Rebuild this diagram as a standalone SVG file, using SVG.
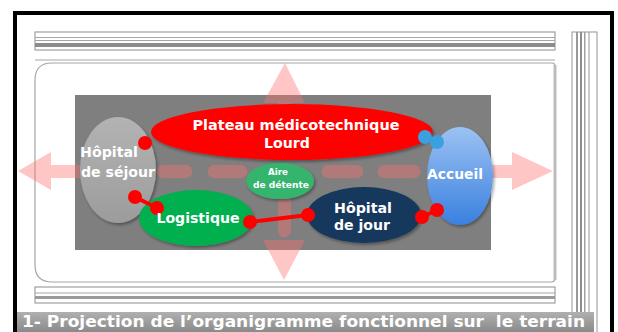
<svg xmlns="http://www.w3.org/2000/svg" width="618" height="332" viewBox="0 0 618 332">
<defs>
<style>
.t{font-family:"DejaVu Sans","Liberation Sans",sans-serif;font-weight:bold;fill:#fff;}
.pk{fill:#ff7070;fill-opacity:0.4;}
.dash{stroke:#ff7070;stroke-opacity:0.4;stroke-width:13;stroke-linecap:round;fill:none;}
.con{stroke:#ff0000;stroke-width:4;}
.dot{fill:#ff0000;}
.ln{stroke:#a6a6a6;stroke-width:1.2;fill:none;}
</style>
<linearGradient id="gAcc" x1="0" y1="0" x2="0" y2="1"><stop offset="0" stop-color="#9cc2f2"/><stop offset="1" stop-color="#3a80e0"/></linearGradient>
<linearGradient id="gSej" x1="0" y1="0" x2="0" y2="1"><stop offset="0" stop-color="#b3b3b3"/><stop offset="1" stop-color="#9c9c9c"/></linearGradient>
<linearGradient id="gCap" x1="0" y1="0" x2="0" y2="1"><stop offset="0" stop-color="#b0b0b0"/><stop offset="1" stop-color="#868686"/></linearGradient>
<filter id="sh" x="-20%" y="-20%" width="140%" height="150%"><feDropShadow dx="1.5" dy="2" stdDeviation="1.5" flood-color="#000" flood-opacity="0.35"/></filter>
</defs>
<rect width="618" height="332" fill="#fff"/>
<g id="frame">
<rect x="15" y="13" width="597" height="335" fill="none" stroke="#000" stroke-width="4"/>
<rect x="35" y="32" width="520" height="18" fill="#fff" stroke="#a0a0a0" stroke-width="1.2"/>
<line x1="35" y1="37.5" x2="555" y2="37.5" class="ln"/>
<line x1="35" y1="40.5" x2="555" y2="40.5" class="ln"/>
<rect x="35" y="43" width="520" height="4" fill="#8c8c8c"/>
<line x1="35" y1="60" x2="555" y2="60" class="ln"/>
<path d="M52,63 H552 Q555,63 555,66 V278 Q555,282 551,282 H52 Q35,282 35,265 V80 Q35,63 52,63 Z" fill="#fff" stroke="#a6a6a6" stroke-width="1.2"/>
<line x1="555" y1="65" x2="555" y2="280" stroke="#bdbdbd" stroke-width="3"/>
<rect x="35" y="287" width="520" height="16" fill="#fff" stroke="#a0a0a0" stroke-width="1.2"/>
<line x1="35" y1="293" x2="555" y2="293" class="ln"/>
<rect x="35" y="296" width="520" height="3" fill="#9a9a9a"/>
<rect x="572" y="32" width="25" height="310" fill="#fff" stroke="#a6a6a6" stroke-width="1.2"/>
<rect x="576" y="32" width="2" height="310" fill="#9a9a9a"/>
<rect x="580" y="32" width="2" height="310" fill="#8c8c8c"/>
<rect x="584" y="32" width="1.5" height="310" fill="#a0a0a0"/>
<line x1="589" y1="32" x2="589" y2="342" class="ln"/>
<rect x="17" y="312" width="577" height="22" fill="url(#gCap)"/>
<text class="t" x="22" y="326.5" font-size="15" textLength="563" lengthAdjust="spacingAndGlyphs" style="white-space:pre">1- Projection de l’organigramme fonctionnel sur  le terrain</text>
</g>
<rect x="75" y="95" width="416" height="155" fill="#7f7f7f"/>
<g id="axes">
<polygon class="pk" points="285,63 263,103 305,103"/>
<rect class="pk" x="278" y="103" width="13" height="5"/>
<polygon class="pk" points="263,240 305,240 284,280"/>
<polygon class="pk" points="18,171 51,152 51,190"/>
<rect class="pk" x="51" y="165" width="32" height="13"/>
<polygon class="pk" points="512,152 512,190 553,171"/>
<rect class="pk" x="488" y="165" width="24" height="13"/>
<line class="dash" x1="163" y1="171.5" x2="186" y2="171.5"/>
<line class="dash" x1="214" y1="171.5" x2="241" y2="171.5"/>
<line class="dash" x1="328" y1="171.5" x2="357" y2="171.5"/>
<line class="dash" x1="384" y1="171.5" x2="414" y2="171.5"/>
<line class="dash" x1="284.5" y1="203" x2="284.5" y2="231"/>
</g>
<g id="sejour" filter="url(#sh)"><ellipse cx="118" cy="170" rx="38" ry="53" fill="url(#gSej)"/></g>
<g id="plateau" filter="url(#sh)"><ellipse cx="292" cy="132" rx="141" ry="28" fill="#ff0000"/></g>
<g id="accueil" filter="url(#sh)"><ellipse cx="460" cy="176" rx="33" ry="49" fill="url(#gAcc)"/></g>
<g id="logistique" filter="url(#sh)"><ellipse cx="196" cy="218" rx="57" ry="28" fill="#00b050"/></g>
<g id="hopjour" filter="url(#sh)"><ellipse cx="364" cy="215" rx="57" ry="28" fill="#12395c"/></g>
<g id="aire" filter="url(#sh)"><ellipse cx="280" cy="181" rx="34" ry="18" fill="#35b46e"/></g>
<g id="connectors">
<circle class="dot" cx="145" cy="143" r="7"/>
<line class="con" x1="135" y1="197" x2="157" y2="208"/>
<circle class="dot" cx="135" cy="197" r="7"/>
<circle class="dot" cx="157" cy="208" r="7"/>
<line class="con" x1="250" y1="222" x2="308" y2="215"/>
<circle class="dot" cx="250" cy="222" r="7"/>
<circle class="dot" cx="308" cy="215" r="7"/>
<line class="con" x1="422" y1="217" x2="437" y2="210"/>
<circle class="dot" cx="422" cy="217" r="7"/>
<circle class="dot" cx="437" cy="210" r="7"/>
<line x1="425" y1="137" x2="437" y2="142" stroke="#3aa0e0" stroke-width="4"/>
<circle cx="425" cy="137" r="7" fill="#3aa0e0"/>
<circle cx="437" cy="142" r="7" fill="#3aa0e0"/>
</g>
<g id="labels">
<text class="t" x="296" y="130" font-size="14.5" text-anchor="middle" textLength="207" lengthAdjust="spacingAndGlyphs">Plateau médicotechnique</text>
<text class="t" x="287" y="148" font-size="14.5" text-anchor="middle" textLength="46" lengthAdjust="spacingAndGlyphs">Lourd</text>
<text class="t" x="80" y="157" font-size="14.5" textLength="58" lengthAdjust="spacingAndGlyphs">Hôpital</text>
<text class="t" x="81" y="177" font-size="14.5" textLength="74" lengthAdjust="spacingAndGlyphs">de séjour</text>
<text class="t" x="455" y="179" font-size="14.5" text-anchor="middle" textLength="56" lengthAdjust="spacingAndGlyphs">Accueil</text>
<text class="t" x="198" y="223" font-size="14.5" text-anchor="middle" textLength="83" lengthAdjust="spacingAndGlyphs">Logistique</text>
<text class="t" x="363" y="213" font-size="14.5" text-anchor="middle" textLength="58" lengthAdjust="spacingAndGlyphs">Hôpital</text>
<text class="t" x="362" y="230" font-size="14.5" text-anchor="middle" textLength="56" lengthAdjust="spacingAndGlyphs">de jour</text>
<text class="t" x="278" y="175" font-size="8" text-anchor="middle" textLength="20" lengthAdjust="spacingAndGlyphs">Aire</text>
<text class="t" x="281" y="188" font-size="8" text-anchor="middle" textLength="56" lengthAdjust="spacingAndGlyphs">de détente</text>
</g>
</svg>
